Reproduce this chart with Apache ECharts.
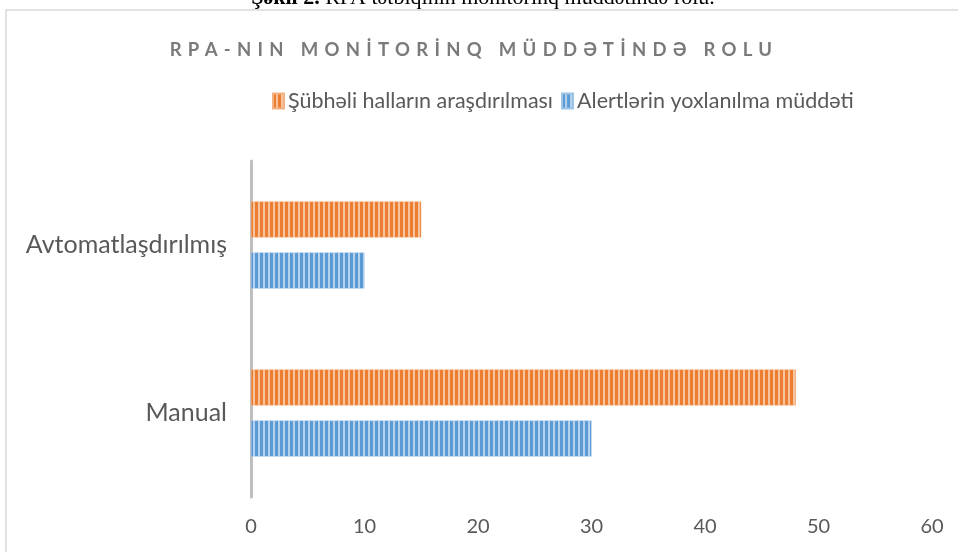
<!DOCTYPE html>
<html><head><meta charset="utf-8">
<script src="https://cdn.jsdelivr.net/npm/echarts@6/dist/echarts.min.js"></script>
<style>html,body{margin:0;padding:0;background:#fff}#c{width:958px;height:552px}</style>
</head><body><div id="c"></div>
<script>
const categories = ['Manual', 'Avtomatlaşdırılmış'];
const seriesNames = ['Şübhəli halların araşdırılması', 'Alertlərin yoxlanılma müddəti'];
const suspiciousValues = [48, 15];
const alertValues = [30, 10];
const xTicks = [0, 10, 20, 30, 40, 50, 60];
const chartTitle = 'RPA-NIN MONİTORİNQ MÜDDƏTİNDƏ ROLU';
const captionBold = 'Şəkil 2.';
const captionRest = ' RPA tətbiqinin monitorinq müddətində rolu.';

// letter spacing for the title text only
(function(){
  const orig = CanvasRenderingContext2D.prototype.fillText;
  CanvasRenderingContext2D.prototype.fillText = function(t, x, y, w){
    if (t === chartTitle && 'letterSpacing' in this) {
      this.save();
      this.letterSpacing = '6.3px';
      const r = orig.call(this, t, x, y);
      this.restore();
      return r;
    }
    return w === undefined ? orig.call(this, t, x, y) : orig.call(this, t, x, y, w);
  };
})();

function stripe(base, light){
  const c = document.createElement('canvas');
  c.width = 5; c.height = 4;
  const g = c.getContext('2d');
  g.fillStyle = base; g.fillRect(0,0,5,4);
  g.fillStyle = light; g.fillRect(3,0,2,4);
  return {image: c, repeat: 'repeat'};
}
const orangeFill = stripe('#ED7D31', '#F7C4A0');
const blueFill = stripe('#5B9BD5', '#B5D2EE');

const chart = echarts.init(document.getElementById('c'));
const font = 'Lato, "Open Sans", sans-serif';
chart.setOption({
  animation: false,
  textStyle: {fontFamily: font},
  graphic: [
    {type: 'rect', shape: {x: 6, y: 10, width: 1000, height: 600}, style: {fill: 'none', stroke: '#d9d9d9', lineWidth: 1.5}, silent: true},
    {type: 'text', x: 483, y: -13, style: {
      text: '{b|' + captionBold + '}' + '{n|' + captionRest + '}',
      align: 'center', verticalAlign: 'top',
      rich: {
        b: {fontFamily: '"Liberation Serif", serif', fontSize: 22, fontWeight: 'bold', fill: '#000'},
        n: {fontFamily: '"Liberation Serif", serif', fontSize: 22, fill: '#000'}
      }
    }},
    {type: 'text', x: 474, y: 50, style: {
      text: chartTitle, align: 'center', verticalAlign: 'middle',
      fontFamily: font, fontSize: 18.5, fontWeight: 'bold', fill: '#7a7a7a'
    }}
  ],
  legend: {
    data: seriesNames,
    left: 267, top: 85,
    itemWidth: 11, itemHeight: 15, itemGap: 8,
    icon: 'rect',
    textStyle: {fontFamily: font, fontSize: 21.5, color: '#595959', padding: [0,0,0,-1]}
  },
  grid: {left: 251, right: 26, top: 161, bottom: 55, containLabel: false},
  xAxis: {
    type: 'value', min: xTicks[0], max: xTicks[xTicks.length-1], interval: 10,
    axisLine: {show: false}, axisTick: {show: false}, splitLine: {show: false},
    axisLabel: {fontFamily: font, fontSize: 20, color: '#595959', margin: 20}
  },
  yAxis: {
    type: 'category', data: categories,
    axisLine: {show: true, lineStyle: {color: '#bfbfbf', width: 3}},
    axisTick: {show: false},
    axisLabel: {fontFamily: font, fontSize: 25, color: '#595959', margin: 24}
  },
  series: [
    {name: seriesNames[0], type: 'bar', data: suspiciousValues, barWidth: 36, barGap: '42%',
      itemStyle: {color: orangeFill, borderColor: '#F4B183', borderWidth: 0.5}},
    {name: seriesNames[1], type: 'bar', data: alertValues, barWidth: 36, barGap: '42%',
      itemStyle: {color: blueFill, borderColor: '#9DC3E6', borderWidth: 0.5}}
  ]
});
</script></body></html>
